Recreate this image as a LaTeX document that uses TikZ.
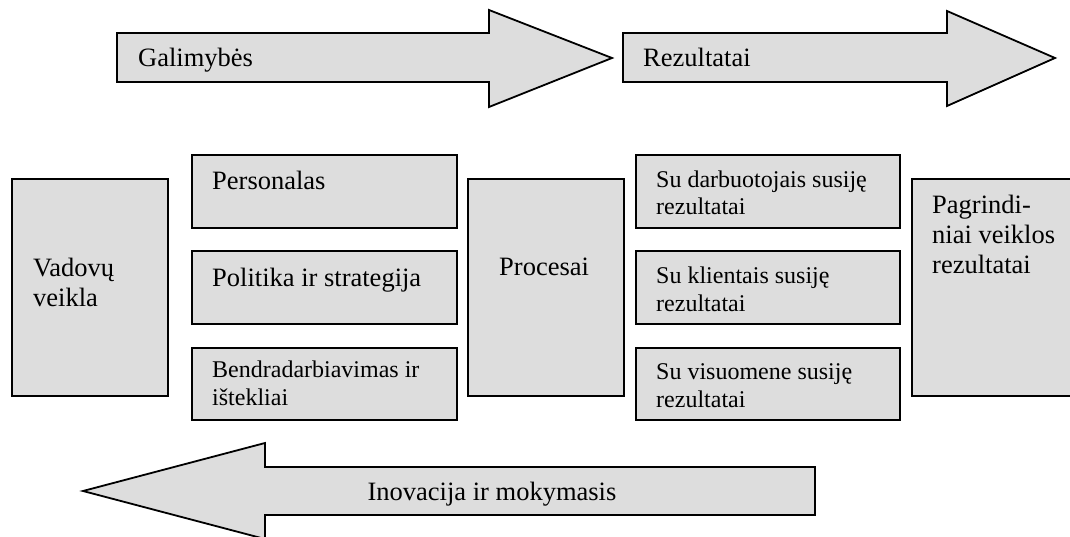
\documentclass[tikz,border=0pt]{standalone}
\usepackage{fontspec}
\setmainfont{Liberation Serif}
\usepackage{xcolor}
\definecolor{boxgray}{HTML}{DDDDDD}

\begin{document}
\begin{tikzpicture}[x=1pt,y=-1pt,
  box/.style={draw,fill=boxgray,line width=1.8pt,inner sep=0pt,anchor=north west},
  bigtxt/.style={font=\fontsize{26.5}{29.5}\selectfont,inner sep=0pt,anchor=base west,align=left},
  smalltxt/.style={font=\fontsize{24}{27.5}\selectfont,inner sep=0pt,anchor=base west,align=left},
  blockarrow/.style={draw,fill=boxgray,line width=1.8pt,line join=miter}]
  \clip (0,0) rectangle (1070,537);
  % big arrows
  \draw[blockarrow] (117,33) -- (489,33) -- (489,10) -- (612,58) -- (489,107) -- (489,82) -- (117,82) -- cycle;
  \draw[blockarrow] (623,33) -- (947,33) -- (947,11) -- (1055,58) -- (947,106) -- (947,82) -- (623,82) -- cycle;
  \draw[blockarrow] (815,467) -- (265,467) -- (265,443) -- (83,491) -- (265,539) -- (265,515) -- (815,515) -- cycle;
  \node[bigtxt] (galim) at (138,67) {Galimybės};
  \node[bigtxt] (rezult) at (643,67) {Rezultatai};
  \node[bigtxt,anchor=base] (inov) at (492,500) {Inovacija ir mokymasis};
  % boxes
  \node[box,minimum width=156pt,minimum height=217pt] (vadovu) at (11,178) {};
  \node[box,minimum width=265pt,minimum height=73pt] (person) at (191,154) {};
  \node[box,minimum width=265pt,minimum height=73pt] (polit) at (191,250) {};
  \node[box,minimum width=265pt,minimum height=72pt] (bendr) at (191,347) {};
  \node[box,minimum width=156pt,minimum height=217pt] (proces) at (467,178) {};
  \node[box,minimum width=264pt,minimum height=73pt] (darbuot) at (635,154) {};
  \node[box,minimum width=264pt,minimum height=73pt] (klient) at (635,250) {};
  \node[box,minimum width=264pt,minimum height=72pt] (visuom) at (635,347) {};
  \node[box,minimum width=169pt,minimum height=217pt] (pagr) at (911,178) {};
  % texts (base = last line)
  \node[bigtxt] (vadovuT) at (33,306) {Vadovų\\veikla};
  \node[bigtxt] (personT) at (212,190) {Personalas};
  \node[bigtxt] (politT) at (212,286) {Politika ir strategija};
  \node[smalltxt] (bendrT) at (212,405) {Bendradarbiavimas ir\\ištekliai};
  \node[bigtxt] (procesT) at (499,275) {Procesai};
  \node[smalltxt] (darbuotT) at (656,215) {Su darbuotojais susiję\\rezultatai};
  \node[smalltxt] (klientT) at (656,311) {Su klientais susiję\\rezultatai};
  \node[smalltxt] (visuomT) at (656,407) {Su visuomene susiję\\rezultatai};
  \node[bigtxt] (pagrT) at (932,273) {Pagrindi-\\niai veiklos\\rezultatai};
\end{tikzpicture}
\end{document}
